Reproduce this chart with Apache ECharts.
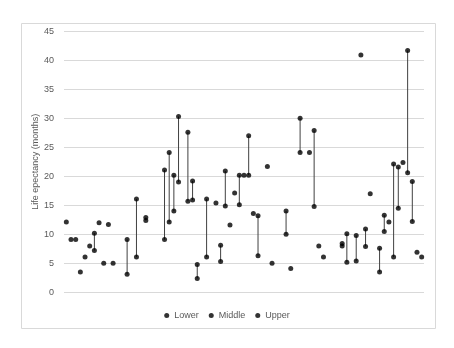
<!DOCTYPE html>
<html>
<head>
<meta charset="utf-8">
<script src="https://cdn.jsdelivr.net/npm/echarts@6/dist/echarts.min.js"></script>
<style>
html,body{margin:0;padding:0;background:#fff;}
#c{width:454px;height:348px;}
</style>
</head>
<body>
<div id="c"></div>
<script>
// Category slots (77 positions along the x axis, no labels shown)
const categories = Array.from({length: 77}, (_, i) => String(i + 1));

// Series values (null = no point in that slot)
const lower = [
  null,null,null,null,null,null,7.2,null,null,null,
  null,null,null,3.1,null,6.1,null,12.4,null,null,
  null,9.1,12.1,14.0,19.0,null,15.7,15.9,2.4,null,
  6.1,null,null,5.3,14.9,null,null,15.1,null,20.2,
  null,6.3,null,null,null,null,null,10.0,null,null,
  24.1,null,null,14.8,null,null,null,null,null,8.0,
  5.2,null,5.4,null,7.9,null,null,3.5,10.5,null,
  6.1,14.5,null,20.6,12.2,null,null
];
const middle = [
  12.1,9.1,9.1,3.5,6.1,8.0,null,12.0,5.0,11.7,
  5.0,null,null,null,null,null,null,null,null,null,
  null,null,null,null,null,null,null,null,null,null,
  null,null,15.4,null,null,11.6,17.1,null,20.2,null,
  13.6,null,null,21.7,5.0,null,null,null,4.1,null,
  null,null,24.1,null,8.0,6.1,null,null,null,null,
  null,null,null,40.9,null,17.0,null,null,null,12.1,
  null,null,22.4,null,null,6.9,6.1
];
const upper = [
  null,null,null,null,null,null,10.2,null,null,null,
  null,null,null,9.1,null,16.1,null,12.9,null,null,
  null,21.1,24.1,20.2,30.3,null,27.6,19.2,4.8,null,
  16.1,null,null,8.1,20.9,null,null,20.2,null,27.0,
  null,13.2,null,null,null,null,null,14.0,null,null,
  30.0,null,null,27.9,null,null,null,null,null,8.4,
  10.1,null,9.8,null,10.9,null,null,7.6,13.3,null,
  22.1,21.6,null,41.7,19.1,null,null
];
const yTicks = {min: 0, max: 45, interval: 5};

// High-low line data built from the three series
const hiLo = [];
categories.forEach((c, i) => {
  const vals = [lower[i], middle[i], upper[i]].filter(v => v !== null);
  if (vals.length >= 2) hiLo.push([i, Math.min(...vals), Math.max(...vals)]);
});

const font = 'Liberation Sans';
const chart = echarts.init(document.getElementById('c'), null, {renderer: 'canvas'});
chart.setOption({
  animation: false,
  textStyle: {fontFamily: font},
  graphic: [{
    type: 'rect', left: 19, top: 21, silent: true,
    shape: {x: 0, y: 0, width: 414, height: 305},
    style: {fill: 'none', stroke: '#d9d9d9', lineWidth: 1}
  }],
  grid: {left: 64, right: 30, top: 31.3, bottom: 55.7, containLabel: false},
  legend: {
    data: ['Lower', 'Middle', 'Upper'],
    top: 306, left: 'center',
    icon: 'circle', itemWidth: 5, itemHeight: 5, itemGap: 10,
    textStyle: {fontSize: 9, color: '#595959', fontFamily: font}
  },
  xAxis: {
    type: 'category', data: categories, boundaryGap: true,
    axisLine: {show: false}, axisTick: {show: false}, axisLabel: {show: false},
    splitLine: {show: false}
  },
  yAxis: {
    type: 'value', min: yTicks.min, max: yTicks.max, interval: yTicks.interval,
    name: 'Life epectancy (months)', nameLocation: 'middle', nameRotate: 90, nameGap: 24,
    nameMoveOverlap: false,
    nameTextStyle: {fontSize: 9, color: '#595959', fontFamily: font},
    axisLine: {show: false}, axisTick: {show: false},
    axisLabel: {fontSize: 9, color: '#595959', margin: 10, fontFamily: font},
    splitLine: {lineStyle: {color: '#d9d9d9', width: 1}}
  },
  series: [
    {
      type: 'custom', name: 'hilo', data: hiLo, z: 1,
      encode: {x: 0, y: [1, 2]},
      renderItem: function (params, api) {
        const a = api.coord([api.value(0), api.value(1)]);
        const b = api.coord([api.value(0), api.value(2)]);
        return {type: 'line', shape: {x1: a[0], y1: a[1], x2: b[0], y2: b[1]},
                style: {stroke: '#404040', lineWidth: 1}};
      }
    },
    {type: 'scatter', name: 'Lower', data: lower, symbolSize: 5, itemStyle: {color: '#000'}, z: 3},
    {type: 'scatter', name: 'Middle', data: middle, symbolSize: 5, itemStyle: {color: '#000'}, z: 3},
    {type: 'scatter', name: 'Upper', data: upper, symbolSize: 5, itemStyle: {color: '#000'}, z: 3}
  ]
});
</script>
</body>
</html>
